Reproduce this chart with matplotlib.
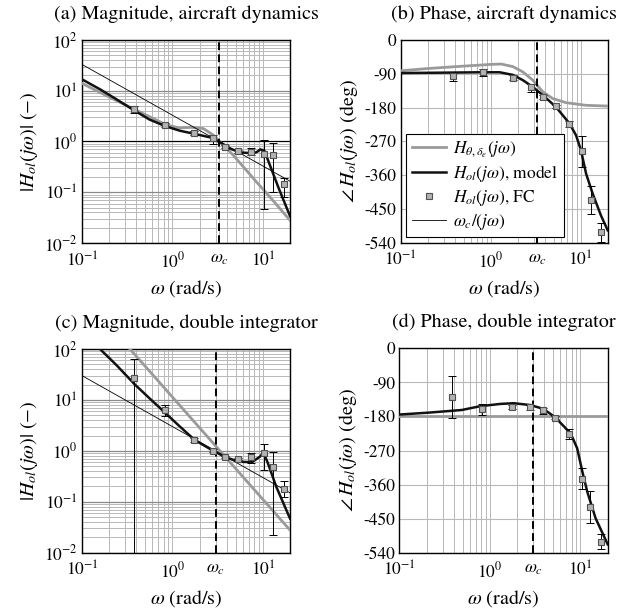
import numpy as np
import matplotlib
matplotlib.use('Agg')
import matplotlib.pyplot as plt
from matplotlib.lines import Line2D
from matplotlib.ticker import FixedLocator, NullFormatter

plt.rcParams['font.family'] = 'STIXGeneral'
plt.rcParams['mathtext.fontset'] = 'stix'
plt.rcParams['axes.unicode_minus'] = False

# ---------------- data ----------------
wc_air = 3.3
wc_dint = 3.0

# flight-control (FC) measurement frequencies
w_fc = [0.38, 0.82, 1.75, 2.8, 3.85, 5.3, 7.5, 10.3, 12.9, 17.0]

# (a) magnitude, aircraft dynamics
mag_a_fc = [4.3, 2.1, 1.5, 1.19, 0.79, 0.64, 0.62, 0.57, 0.53, 0.144]
mag_a_lo = [3.6, 1.9, 1.35, 0.9, 0.73, 0.6, 0.54, 0.046, 0.10, 0.081]
mag_a_hi = [5.0, 2.3, 1.6, 1.34, 0.86, 0.68, 0.73, 1.07, 0.95, 0.19]
w_a_model = [0.1, 0.158, 0.24, 0.37, 0.56, 0.84, 1.21, 1.77, 2.6, 3.5, 4.3, 5.6, 7.8, 8.6, 9.4, 10.4, 12.0, 15.0, 20.0]
mag_a_model = [16.8, 10.7, 6.8, 4.2, 2.7, 2.0, 1.63, 1.41, 1.21, 0.93, 0.73, 0.61, 0.585, 0.62, 0.70, 0.66, 0.34, 0.12, 0.034]
w_a_plant = [0.1, 0.2, 0.38, 0.6, 0.84, 1.2, 1.6, 2.2, 2.83, 3.5, 4.7, 8.5, 11.9, 20.0]
mag_a_plant = [14.0, 7.5, 4.3, 2.9, 2.15, 1.85, 1.9, 1.8, 1.34, 0.92, 0.54, 0.16, 0.082, 0.028]
w_line = [0.1, 20.0]
mag_a_int = [33.0, 0.165]

# (b) phase, aircraft dynamics
ph_b_fc = [-96, -86, -100, -126, -152, -177, -223, -297, -427, -511]
ph_b_lo = [-109, -95, -106, -138, -158, -181, -233, -338, -464, -538]
ph_b_hi = [-88, -78, -94, -116, -146, -173, -216, -255, -389, -488]
w_b_model = [0.1, 0.3, 0.76, 1.26, 1.77, 2.28, 2.94, 3.8, 5.3, 7.5, 8.9, 10.1, 11.5, 13.6, 16.8, 20.0]
ph_b_model = [-88, -87, -86, -86, -93, -107, -125, -147, -178, -222, -254, -294, -356, -409, -467, -507]
w_b_plant = [0.1, 0.2, 0.47, 0.75, 1.0, 1.31, 1.77, 2.28, 2.94, 3.8, 4.9, 6.9, 11.5, 20.0]
ph_b_plant = [-82, -76, -70, -67, -65, -64, -71, -85, -107, -138, -156, -167, -174, -176]

# (c) magnitude, double integrator
mag_c_fc = [26.5, 6.3, 1.63, 1.0, 0.76, 0.70, 0.75, 0.90, 0.48, 0.177]
mag_c_lo = [0.005, 4.8, 1.5, 0.93, 0.71, 0.66, 0.57, 0.42, 0.022, 0.126]
mag_c_hi = [63.0, 7.8, 1.75, 1.07, 0.81, 0.74, 0.89, 1.34, 0.93, 0.26]
w_c_model = [0.1, 0.158, 0.24, 0.385, 0.56, 0.84, 1.21, 1.77, 2.83, 3.9, 5.5, 7.6, 9.3, 10.2, 11.4, 14.1, 20.0]
mag_c_model = [220.0, 100.0, 48.5, 20.0, 10.7, 5.5, 3.0, 1.63, 1.0, 0.745, 0.61, 0.60, 0.77, 0.92, 0.57, 0.197, 0.047]
w_c_plant = [0.339, 20.0]
mag_c_plant = [100.0, 0.0278]
mag_c_int = [30.0, 0.15]

# (d) phase, double integrator
ph_d_fc = [-128, -160, -155, -156, -164, -183, -226, -345, -420, -512]
ph_d_lo = [-183, -176, -161, -163, -173, -187, -240, -372, -462, -529]
ph_d_hi = [-72, -148, -150, -150, -158, -179, -213, -317, -376, -491]
w_d_model = [0.1, 0.21, 0.49, 0.78, 1.3, 1.83, 2.8, 3.9, 5.3, 7.8, 9.2, 10.5, 11.9, 14.7, 20.0]
ph_d_model = [-175, -170, -163, -153, -147, -145, -150, -160, -183, -225, -264, -326, -379, -449, -518]
ph_d_plant = [-180, -180]

titles = ['(a) Magnitude, aircraft dynamics', '(b) Phase, aircraft dynamics',
          '(c) Magnitude, double integrator', '(d) Phase, double integrator']

# ---------------- figure ----------------
W, H = 627, 610
fig = plt.figure(figsize=(W / 100, H / 100), dpi=100)

def add_ax(x0, y0, x1, y1):
    return fig.add_axes([x0 / W, 1 - y1 / H, (x1 - x0) / W, (y1 - y0) / H])

axA = add_ax(82, 40, 290, 243)
axB = add_ax(400.7, 40, 607.7, 242.7)
axC = add_ax(82, 349, 290, 552.7)
axD = add_ax(399.3, 348.3, 607.7, 552.7)

GRAY = '#9a9a9a'
MAJ = '#8a8a8a'
MIN = '#b8b8b8'
TICK_FS = 12.5
LABEL_FS = 14.5
MS = 4.3

minor_x = [m * 10.0 ** e for e in (-1, 0, 1) for m in range(2, 10) if m * 10.0 ** e <= 20]

def style_x(ax, wc):
    ax.set_xscale('log')
    ax.set_xlim(0.1, 20)
    ax.xaxis.set_major_locator(FixedLocator([0.1, 1, wc, 10]))
    ax.xaxis.set_minor_locator(FixedLocator(minor_x))
    ax.xaxis.set_minor_formatter(NullFormatter())
    ax.set_xticklabels([r'$10^{-1}$', r'$10^{0}$', r'$\omega_c$', r'$10^{1}$'], fontsize=TICK_FS)
    ax.grid(True, axis='x', which='both', color=MIN, lw=0.7)
    ax.set_xlabel(r'$\omega$ (rad/s)', fontsize=LABEL_FS, labelpad=5)
    ax.tick_params(which='both', length=0)
    ax.tick_params(axis='x', pad=6)
    ax.tick_params(axis='y', pad=3)
    ax.set_axisbelow(True)
    for s in ax.spines.values():
        s.set_linewidth(1.0)

def style_mag(ax, wc):
    style_x(ax, wc)
    ax.set_yscale('log')
    ax.set_ylim(0.01, 100)
    ax.yaxis.set_major_locator(FixedLocator([0.01, 0.1, 1, 10, 100]))
    minor_y = [m * 10.0 ** e for e in (-2, -1, 0, 1) for m in range(2, 10)]
    ax.yaxis.set_minor_locator(FixedLocator(minor_y))
    ax.yaxis.set_minor_formatter(NullFormatter())
    ax.set_yticklabels([r'$10^{-2}$', r'$10^{-1}$', r'$10^{0}$', r'$10^{1}$', r'$10^{2}$'], fontsize=TICK_FS)
    ax.grid(True, axis='y', which='minor', color=MIN, lw=0.7)
    ax.grid(True, axis='y', which='major', color=MAJ, lw=0.9)
    ax.set_ylabel(r'$|H_{ol}(j\omega)|\ (-)$', fontsize=LABEL_FS, labelpad=3)

def style_phase(ax, wc):
    style_x(ax, wc)
    ax.set_ylim(-540, 0)
    yt = list(range(-540, 1, 90))
    ax.yaxis.set_major_locator(FixedLocator(yt))
    ax.set_yticklabels([str(v) for v in yt], fontsize=TICK_FS)
    ax.grid(True, axis='y', which='major', color=MIN, lw=0.8)
    ax.set_ylabel(r'$\angle\, H_{ol}(j\omega)$ (deg)', fontsize=LABEL_FS, labelpad=3)

def draw_fc(ax, w, v, lo, hi):
    v = np.asarray(v, float)
    err = [v - np.asarray(lo, float), np.asarray(hi, float) - v]
    ax.errorbar(w, v, yerr=err, fmt='none', ecolor='black', elinewidth=0.7,
                capsize=3.2, capthick=0.7, zorder=5)
    ax.plot(w, v, 's', mfc='#b3b3b3', mec='#505050', ms=MS, mew=0.8, zorder=6, ls='none')

def dashed(ax, wc):
    ax.axvline(wc, color='black', lw=1.4, ls=(0, (4, 2.2)), zorder=4)

# (a)
style_mag(axA, wc_air)
axA.axhline(1.0, color='black', lw=0.8, zorder=2)
axA.plot(w_a_plant, mag_a_plant, color=GRAY, lw=2.0, zorder=3)
axA.plot(w_line, mag_a_int, color='black', lw=0.6, zorder=3)
axA.plot(w_a_model, mag_a_model, color='#111111', lw=1.8, zorder=4)
dashed(axA, wc_air)
draw_fc(axA, w_fc, mag_a_fc, mag_a_lo, mag_a_hi)

# (b)
style_phase(axB, wc_air)
axB.plot(w_b_plant, ph_b_plant, color=GRAY, lw=2.0, zorder=3)
axB.plot(w_b_model, ph_b_model, color='#111111', lw=1.8, zorder=4)
dashed(axB, wc_air)
draw_fc(axB, w_fc, ph_b_fc, ph_b_lo, ph_b_hi)
handles = [Line2D([], [], color=GRAY, lw=2.0),
           Line2D([], [], color='#111111', lw=1.8),
           Line2D([], [], ls='none', marker='s', mfc='#b3b3b3', mec='#505050', ms=MS, mew=0.8),
           Line2D([], [], color='black', lw=0.6)]
labels = [r'$H_{\theta,\delta_e}(j\omega)$', r'$H_{ol}(j\omega)$, model',
          r'$H_{ol}(j\omega)$, FC', r'$\omega_c/(j\omega)$']
leg = axB.legend(handles, labels, loc='lower left', bbox_to_anchor=(0.028, 0.028),
                 fontsize=12.5, frameon=True, fancybox=False, framealpha=1,
                 edgecolor='black', borderpad=0.3, labelspacing=0.22,
                 handlelength=2.0, handletextpad=0.4, borderaxespad=0)
leg.get_frame().set_linewidth(0.8)
leg.set_zorder(10)

# (c)
style_mag(axC, wc_dint)
axC.plot(w_c_plant, mag_c_plant, color=GRAY, lw=2.0, zorder=3)
axC.plot(w_line, mag_c_int, color='black', lw=0.6, zorder=3)
axC.plot(w_c_model, mag_c_model, color='#111111', lw=1.8, zorder=4)
dashed(axC, wc_dint)
draw_fc(axC, w_fc, mag_c_fc, mag_c_lo, mag_c_hi)

# (d)
style_phase(axD, wc_dint)
axD.plot(w_line, ph_d_plant, color=GRAY, lw=2.0, zorder=3)
axD.plot(w_d_model, ph_d_model, color='#111111', lw=1.8, zorder=4)
dashed(axD, wc_dint)
draw_fc(axD, w_fc, ph_d_fc, ph_d_lo, ph_d_hi)

for ax, t in zip([axA, axB, axC, axD], titles):
    ax.set_title(t, fontsize=14.5, pad=15)

fig.savefig('out.png', dpi=100)
